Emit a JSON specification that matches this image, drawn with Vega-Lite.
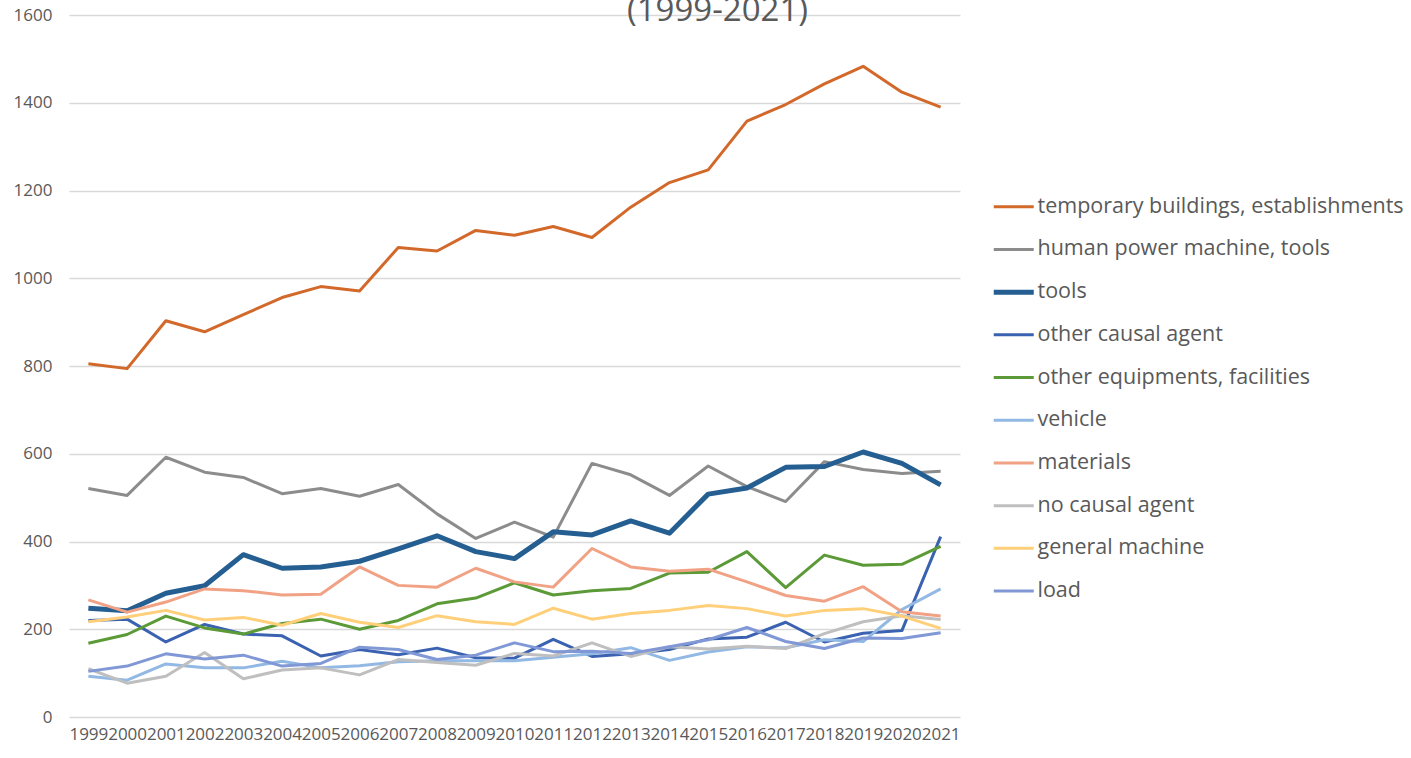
{
  "$schema": "https://vega.github.io/schema/vega-lite/v6.json",
  "width": 891,
  "height": 702,
  "autosize": {"type": "none"},
  "padding": {"left": 69, "top": 15, "right": 451, "bottom": 41},
  "background": "white",
  "title": {
    "text": "(1999-2021)",
    "anchor": "middle",
    "frame": "group",
    "orient": "top",
    "dx": 203,
    "dy": 34,
    "offset": -14,
    "baseline": "alphabetic",
    "font": "Open Sans",
    "fontSize": 33,
    "fontWeight": "normal",
    "color": "#595959"
  },
  "config": {
    "view": {"stroke": null},
    "font": "Open Sans"
  },
  "data": {
    "values": [
      {"series": "temporary buildings, establishments", "year": "1999", "value": 805},
      {"series": "temporary buildings, establishments", "year": "2000", "value": 794},
      {"series": "temporary buildings, establishments", "year": "2001", "value": 903},
      {"series": "temporary buildings, establishments", "year": "2002", "value": 878},
      {"series": "temporary buildings, establishments", "year": "2003", "value": 917},
      {"series": "temporary buildings, establishments", "year": "2004", "value": 956},
      {"series": "temporary buildings, establishments", "year": "2005", "value": 981},
      {"series": "temporary buildings, establishments", "year": "2006", "value": 971},
      {"series": "temporary buildings, establishments", "year": "2007", "value": 1070},
      {"series": "temporary buildings, establishments", "year": "2008", "value": 1062},
      {"series": "temporary buildings, establishments", "year": "2009", "value": 1109},
      {"series": "temporary buildings, establishments", "year": "2010", "value": 1098},
      {"series": "temporary buildings, establishments", "year": "2011", "value": 1118},
      {"series": "temporary buildings, establishments", "year": "2012", "value": 1093},
      {"series": "temporary buildings, establishments", "year": "2013", "value": 1162},
      {"series": "temporary buildings, establishments", "year": "2014", "value": 1218},
      {"series": "temporary buildings, establishments", "year": "2015", "value": 1247},
      {"series": "temporary buildings, establishments", "year": "2016", "value": 1358},
      {"series": "temporary buildings, establishments", "year": "2017", "value": 1396},
      {"series": "temporary buildings, establishments", "year": "2018", "value": 1443},
      {"series": "temporary buildings, establishments", "year": "2019", "value": 1483},
      {"series": "temporary buildings, establishments", "year": "2020", "value": 1424},
      {"series": "temporary buildings, establishments", "year": "2021", "value": 1390},

      {"series": "human power machine, tools", "year": "1999", "value": 521},
      {"series": "human power machine, tools", "year": "2000", "value": 505},
      {"series": "human power machine, tools", "year": "2001", "value": 592},
      {"series": "human power machine, tools", "year": "2002", "value": 558},
      {"series": "human power machine, tools", "year": "2003", "value": 546},
      {"series": "human power machine, tools", "year": "2004", "value": 509},
      {"series": "human power machine, tools", "year": "2005", "value": 521},
      {"series": "human power machine, tools", "year": "2006", "value": 503},
      {"series": "human power machine, tools", "year": "2007", "value": 530},
      {"series": "human power machine, tools", "year": "2008", "value": 463},
      {"series": "human power machine, tools", "year": "2009", "value": 407},
      {"series": "human power machine, tools", "year": "2010", "value": 444},
      {"series": "human power machine, tools", "year": "2011", "value": 410},
      {"series": "human power machine, tools", "year": "2012", "value": 578},
      {"series": "human power machine, tools", "year": "2013", "value": 552},
      {"series": "human power machine, tools", "year": "2014", "value": 505},
      {"series": "human power machine, tools", "year": "2015", "value": 572},
      {"series": "human power machine, tools", "year": "2016", "value": 525},
      {"series": "human power machine, tools", "year": "2017", "value": 491},
      {"series": "human power machine, tools", "year": "2018", "value": 582},
      {"series": "human power machine, tools", "year": "2019", "value": 564},
      {"series": "human power machine, tools", "year": "2020", "value": 555},
      {"series": "human power machine, tools", "year": "2021", "value": 560},

      {"series": "tools", "year": "1999", "value": 248},
      {"series": "tools", "year": "2000", "value": 242},
      {"series": "tools", "year": "2001", "value": 282},
      {"series": "tools", "year": "2002", "value": 299},
      {"series": "tools", "year": "2003", "value": 370},
      {"series": "tools", "year": "2004", "value": 339},
      {"series": "tools", "year": "2005", "value": 342},
      {"series": "tools", "year": "2006", "value": 355},
      {"series": "tools", "year": "2007", "value": 383},
      {"series": "tools", "year": "2008", "value": 413},
      {"series": "tools", "year": "2009", "value": 377},
      {"series": "tools", "year": "2010", "value": 361},
      {"series": "tools", "year": "2011", "value": 422},
      {"series": "tools", "year": "2012", "value": 415},
      {"series": "tools", "year": "2013", "value": 447},
      {"series": "tools", "year": "2014", "value": 419},
      {"series": "tools", "year": "2015", "value": 508},
      {"series": "tools", "year": "2016", "value": 522},
      {"series": "tools", "year": "2017", "value": 569},
      {"series": "tools", "year": "2018", "value": 571},
      {"series": "tools", "year": "2019", "value": 604},
      {"series": "tools", "year": "2020", "value": 578},
      {"series": "tools", "year": "2021", "value": 529},

      {"series": "other causal agent", "year": "1999", "value": 220},
      {"series": "other causal agent", "year": "2000", "value": 223},
      {"series": "other causal agent", "year": "2001", "value": 171},
      {"series": "other causal agent", "year": "2002", "value": 211},
      {"series": "other causal agent", "year": "2003", "value": 189},
      {"series": "other causal agent", "year": "2004", "value": 185},
      {"series": "other causal agent", "year": "2005", "value": 139},
      {"series": "other causal agent", "year": "2006", "value": 154},
      {"series": "other causal agent", "year": "2007", "value": 142},
      {"series": "other causal agent", "year": "2008", "value": 157},
      {"series": "other causal agent", "year": "2009", "value": 135},
      {"series": "other causal agent", "year": "2010", "value": 134},
      {"series": "other causal agent", "year": "2011", "value": 177},
      {"series": "other causal agent", "year": "2012", "value": 138},
      {"series": "other causal agent", "year": "2013", "value": 144},
      {"series": "other causal agent", "year": "2014", "value": 154},
      {"series": "other causal agent", "year": "2015", "value": 178},
      {"series": "other causal agent", "year": "2016", "value": 182},
      {"series": "other causal agent", "year": "2017", "value": 216},
      {"series": "other causal agent", "year": "2018", "value": 171},
      {"series": "other causal agent", "year": "2019", "value": 191},
      {"series": "other causal agent", "year": "2020", "value": 197},
      {"series": "other causal agent", "year": "2021", "value": 411},

      {"series": "other equipments, facilities", "year": "1999", "value": 168},
      {"series": "other equipments, facilities", "year": "2000", "value": 188},
      {"series": "other equipments, facilities", "year": "2001", "value": 230},
      {"series": "other equipments, facilities", "year": "2002", "value": 203},
      {"series": "other equipments, facilities", "year": "2003", "value": 189},
      {"series": "other equipments, facilities", "year": "2004", "value": 213},
      {"series": "other equipments, facilities", "year": "2005", "value": 223},
      {"series": "other equipments, facilities", "year": "2006", "value": 200},
      {"series": "other equipments, facilities", "year": "2007", "value": 220},
      {"series": "other equipments, facilities", "year": "2008", "value": 258},
      {"series": "other equipments, facilities", "year": "2009", "value": 271},
      {"series": "other equipments, facilities", "year": "2010", "value": 306},
      {"series": "other equipments, facilities", "year": "2011", "value": 278},
      {"series": "other equipments, facilities", "year": "2012", "value": 288},
      {"series": "other equipments, facilities", "year": "2013", "value": 293},
      {"series": "other equipments, facilities", "year": "2014", "value": 328},
      {"series": "other equipments, facilities", "year": "2015", "value": 330},
      {"series": "other equipments, facilities", "year": "2016", "value": 377},
      {"series": "other equipments, facilities", "year": "2017", "value": 295},
      {"series": "other equipments, facilities", "year": "2018", "value": 369},
      {"series": "other equipments, facilities", "year": "2019", "value": 346},
      {"series": "other equipments, facilities", "year": "2020", "value": 348},
      {"series": "other equipments, facilities", "year": "2021", "value": 389},

      {"series": "vehicle", "year": "1999", "value": 93},
      {"series": "vehicle", "year": "2000", "value": 84},
      {"series": "vehicle", "year": "2001", "value": 121},
      {"series": "vehicle", "year": "2002", "value": 112},
      {"series": "vehicle", "year": "2003", "value": 112},
      {"series": "vehicle", "year": "2004", "value": 127},
      {"series": "vehicle", "year": "2005", "value": 112},
      {"series": "vehicle", "year": "2006", "value": 117},
      {"series": "vehicle", "year": "2007", "value": 126},
      {"series": "vehicle", "year": "2008", "value": 128},
      {"series": "vehicle", "year": "2009", "value": 128},
      {"series": "vehicle", "year": "2010", "value": 128},
      {"series": "vehicle", "year": "2011", "value": 136},
      {"series": "vehicle", "year": "2012", "value": 144},
      {"series": "vehicle", "year": "2013", "value": 158},
      {"series": "vehicle", "year": "2014", "value": 129},
      {"series": "vehicle", "year": "2015", "value": 148},
      {"series": "vehicle", "year": "2016", "value": 160},
      {"series": "vehicle", "year": "2017", "value": 158},
      {"series": "vehicle", "year": "2018", "value": 176},
      {"series": "vehicle", "year": "2019", "value": 172},
      {"series": "vehicle", "year": "2020", "value": 245},
      {"series": "vehicle", "year": "2021", "value": 292},

      {"series": "materials", "year": "1999", "value": 267},
      {"series": "materials", "year": "2000", "value": 239},
      {"series": "materials", "year": "2001", "value": 262},
      {"series": "materials", "year": "2002", "value": 292},
      {"series": "materials", "year": "2003", "value": 288},
      {"series": "materials", "year": "2004", "value": 278},
      {"series": "materials", "year": "2005", "value": 280},
      {"series": "materials", "year": "2006", "value": 342},
      {"series": "materials", "year": "2007", "value": 300},
      {"series": "materials", "year": "2008", "value": 296},
      {"series": "materials", "year": "2009", "value": 339},
      {"series": "materials", "year": "2010", "value": 308},
      {"series": "materials", "year": "2011", "value": 296},
      {"series": "materials", "year": "2012", "value": 384},
      {"series": "materials", "year": "2013", "value": 342},
      {"series": "materials", "year": "2014", "value": 332},
      {"series": "materials", "year": "2015", "value": 337},
      {"series": "materials", "year": "2016", "value": 308},
      {"series": "materials", "year": "2017", "value": 277},
      {"series": "materials", "year": "2018", "value": 264},
      {"series": "materials", "year": "2019", "value": 297},
      {"series": "materials", "year": "2020", "value": 240},
      {"series": "materials", "year": "2021", "value": 230},

      {"series": "no causal agent", "year": "1999", "value": 110},
      {"series": "no causal agent", "year": "2000", "value": 77},
      {"series": "no causal agent", "year": "2001", "value": 93},
      {"series": "no causal agent", "year": "2002", "value": 147},
      {"series": "no causal agent", "year": "2003", "value": 87},
      {"series": "no causal agent", "year": "2004", "value": 107},
      {"series": "no causal agent", "year": "2005", "value": 112},
      {"series": "no causal agent", "year": "2006", "value": 96},
      {"series": "no causal agent", "year": "2007", "value": 131},
      {"series": "no causal agent", "year": "2008", "value": 124},
      {"series": "no causal agent", "year": "2009", "value": 118},
      {"series": "no causal agent", "year": "2010", "value": 145},
      {"series": "no causal agent", "year": "2011", "value": 139},
      {"series": "no causal agent", "year": "2012", "value": 169},
      {"series": "no causal agent", "year": "2013", "value": 138},
      {"series": "no causal agent", "year": "2014", "value": 160},
      {"series": "no causal agent", "year": "2015", "value": 155},
      {"series": "no causal agent", "year": "2016", "value": 161},
      {"series": "no causal agent", "year": "2017", "value": 156},
      {"series": "no causal agent", "year": "2018", "value": 190},
      {"series": "no causal agent", "year": "2019", "value": 217},
      {"series": "no causal agent", "year": "2020", "value": 231},
      {"series": "no causal agent", "year": "2021", "value": 222},

      {"series": "general machine", "year": "1999", "value": 217},
      {"series": "general machine", "year": "2000", "value": 228},
      {"series": "general machine", "year": "2001", "value": 243},
      {"series": "general machine", "year": "2002", "value": 221},
      {"series": "general machine", "year": "2003", "value": 227},
      {"series": "general machine", "year": "2004", "value": 209},
      {"series": "general machine", "year": "2005", "value": 236},
      {"series": "general machine", "year": "2006", "value": 216},
      {"series": "general machine", "year": "2007", "value": 204},
      {"series": "general machine", "year": "2008", "value": 231},
      {"series": "general machine", "year": "2009", "value": 217},
      {"series": "general machine", "year": "2010", "value": 211},
      {"series": "general machine", "year": "2011", "value": 248},
      {"series": "general machine", "year": "2012", "value": 223},
      {"series": "general machine", "year": "2013", "value": 236},
      {"series": "general machine", "year": "2014", "value": 243},
      {"series": "general machine", "year": "2015", "value": 254},
      {"series": "general machine", "year": "2016", "value": 247},
      {"series": "general machine", "year": "2017", "value": 230},
      {"series": "general machine", "year": "2018", "value": 243},
      {"series": "general machine", "year": "2019", "value": 247},
      {"series": "general machine", "year": "2020", "value": 230},
      {"series": "general machine", "year": "2021", "value": 202},

      {"series": "load", "year": "1999", "value": 104},
      {"series": "load", "year": "2000", "value": 116},
      {"series": "load", "year": "2001", "value": 144},
      {"series": "load", "year": "2002", "value": 132},
      {"series": "load", "year": "2003", "value": 141},
      {"series": "load", "year": "2004", "value": 116},
      {"series": "load", "year": "2005", "value": 122},
      {"series": "load", "year": "2006", "value": 159},
      {"series": "load", "year": "2007", "value": 154},
      {"series": "load", "year": "2008", "value": 131},
      {"series": "load", "year": "2009", "value": 141},
      {"series": "load", "year": "2010", "value": 169},
      {"series": "load", "year": "2011", "value": 149},
      {"series": "load", "year": "2012", "value": 150},
      {"series": "load", "year": "2013", "value": 145},
      {"series": "load", "year": "2014", "value": 160},
      {"series": "load", "year": "2015", "value": 176},
      {"series": "load", "year": "2016", "value": 204},
      {"series": "load", "year": "2017", "value": 172},
      {"series": "load", "year": "2018", "value": 156},
      {"series": "load", "year": "2019", "value": 180},
      {"series": "load", "year": "2020", "value": 179},
      {"series": "load", "year": "2021", "value": 192}
    ]
  },
  "mark": {"type": "line", "strokeJoin": "round", "strokeCap": "butt"},
  "encoding": {
    "x": {
      "field": "year",
      "type": "ordinal",
      "scale": {"type": "point", "padding": 0.5},
      "axis": {
        "title": null,
        "labelAngle": 0,
        "labelFont": "Open Sans",
        "labelFontSize": 17,
        "labelColor": "#595959",
        "labelPadding": 9,
        "labelOverlap": false,
        "labelBound": false,
        "domain": false,
        "ticks": false,
        "grid": false
      }
    },
    "y": {
      "field": "value",
      "type": "quantitative",
      "scale": {"domain": [0, 1600], "nice": false},
      "axis": {
        "title": null,
        "format": "d",
        "values": [0, 200, 400, 600, 800, 1000, 1200, 1400, 1600],
        "labelFont": "Open Sans",
        "labelFontSize": 17,
        "labelColor": "#595959",
        "labelPadding": 17,
        "domain": false,
        "ticks": false,
        "grid": true,
        "gridColor": "#d9d9d9",
        "gridWidth": 1.5
      }
    },
    "color": {
      "field": "series",
      "type": "nominal",
      "sort": null,
      "scale": {
        "domain": ["temporary buildings, establishments", "human power machine, tools", "tools", "other causal agent", "other equipments, facilities", "vehicle", "materials", "no causal agent", "general machine", "load"],
        "range": ["#D2692A", "#8C8C8C", "#255E91", "#3A62B0", "#5B9A36", "#92B8E4", "#F1A285", "#BFBFBF", "#FFCF7A", "#8198D6"]
      },
      "legend": {
        "title": null,
        "orient": "none",
        "legendX": 934,
        "legendY": 181,
        "symbolType": "stroke",
        "symbolSize": 1600,
        "symbolStrokeWidth": 3,
        "labelFont": "Open Sans",
        "labelFontSize": 21.5,
        "labelColor": "#595959",
        "labelOffset": 13,
        "labelLimit": 500,
        "rowPadding": 19.7,
        "encode": {
          "symbols": {
            "update": {
              "strokeWidth": {"signal": "datum.value === 'tools' ? 5 : 3"}
            }
          }
        }
      }
    },
    "strokeWidth": {
      "condition": {"test": "datum.series === 'tools'", "value": 5},
      "value": 3
    }
  }
}
